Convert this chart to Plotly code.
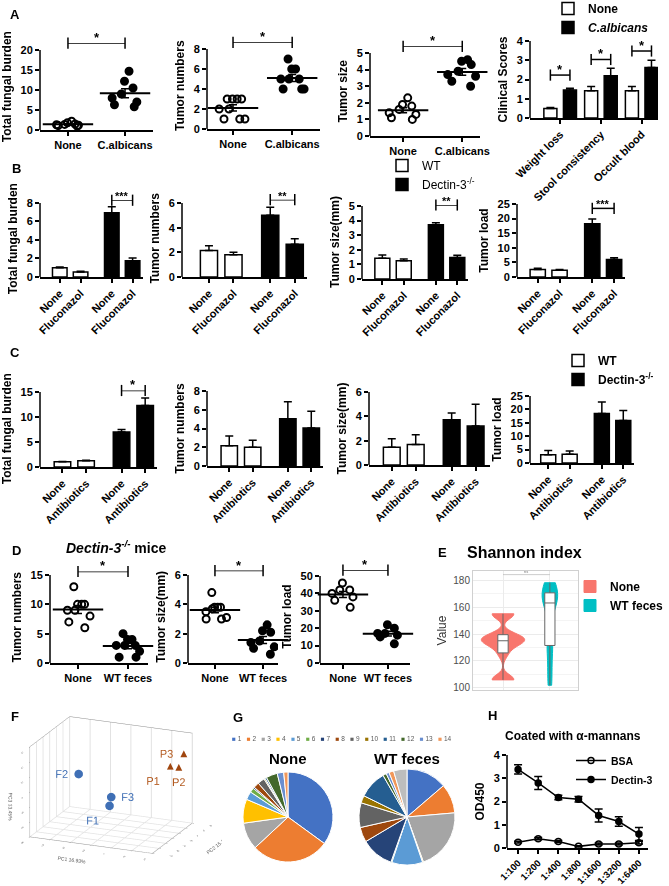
import numpy as np
import plotly.graph_objects as go

W, H = 669, 886
FONT = "Liberation Sans, Arial, Helvetica, sans-serif"

# ---------------- data ----------------
# A: mice colonised with C. albicans
A_GROUPS = ["None", "C.albicans"]
A_FUNGAL_NONE = [1.0, 1.2, 1.5, 1.3, 2.2, 1.8, 1.1, 1.4]
A_FUNGAL_CALB = [14.7, 12.2, 10.5, 8.0, 9.0, 7.0, 5.8, 6.3]
A_TUMOR_NONE = [3, 3, 3, 3, 2, 2, 1, 1, 1]
A_TUMOR_CALB = [7, 6, 6, 5, 5, 5, 4, 4, 4]
A_SIZE_NONE = [2.3, 1.9, 1.8, 1.6, 1.4, 1.3, 1.1, 1.0]
A_SIZE_CALB = [4.6, 4.5, 4.3, 3.9, 3.7, 3.6, 3.0, 3.3]
A_SCORE_CATS = ["Weight loss", "Stool consistency", "Occult blood"]
A_SCORE_NONE = [0.5, 1.42, 1.42]
A_SCORE_NONE_ERR = [0.05, 0.22, 0.22]
A_SCORE_CALB = [1.45, 2.2, 2.62]
A_SCORE_CALB_ERR = [0.1, 0.38, 0.38]

# B: fluconazol treatment (WT None, WT Fluconazol, Dectin None, Dectin Fluconazol)
B_LABELS = ["None", "Fluconazol", "None", "Fluconazol"]
B_FUNGAL = [1.0, 0.55, 6.95, 1.75]
B_FUNGAL_ERR = [0.07, 0.08, 0.65, 0.3]
B_TUMOR = [2.15, 1.8, 5.0, 2.65]
B_TUMOR_ERR = [0.38, 0.2, 0.65, 0.45]
B_SIZE = [1.42, 1.25, 3.72, 1.48]
B_SIZE_ERR = [0.22, 0.12, 0.13, 0.15]
B_LOAD = [2.6, 2.3, 18.2, 6.0]
B_LOAD_ERR = [0.4, 0.3, 1.7, 0.6]

# C: antibiotics treatment
C_LABELS = ["None", "Antibiotics", "None", "Antibiotics"]
C_FUNGAL = [1.05, 1.25, 7.0, 12.3]
C_FUNGAL_ERR = [0.07, 0.1, 0.5, 1.5]
C_TUMOR = [2.15, 2.0, 5.05, 4.05]
C_TUMOR_ERR = [1.05, 0.75, 1.8, 1.8]
C_SIZE = [1.45, 1.68, 3.72, 3.2]
C_SIZE_ERR = [0.7, 0.8, 0.55, 1.8]
C_LOAD = [3.1, 3.3, 18.5, 15.9]
C_LOAD_ERR = [1.6, 1.2, 4.3, 3.7]

# D: Dectin-3-/- mice with WT feces
D_GROUPS = ["None", "WT feces"]
D_TUMOR_NONE = [13, 10, 10, 10, 9, 9, 8, 7, 6]
D_TUMOR_WT = [5, 4, 4, 3, 3, 3, 2, 1, 1]
D_SIZE_NONE = [4.8, 3.8, 3.8, 3.8, 3.7, 3.5, 3.1, 3.0, 3.0]
D_SIZE_WT = [2.6, 2.2, 2.1, 1.5, 1.4, 1.1, 0.6, 1.0]
D_LOAD_NONE = [46, 42, 42, 40, 38, 36, 32]
D_LOAD_WT = [22, 20, 17, 17, 16, 15, 11]

# E: Shannon index
E_NONE = [106, 106, 106, 107, 124, 128, 131, 133, 134, 135, 135, 136, 137, 138, 139, 140,
          154, 155, 155, 155]
E_WT = [102, 115, 128, 135, 150, 162, 164, 166, 169, 172, 176, 178]

# F: PCA
F_LABELS = ["F1", "F2", "F3"]
F_PC1 = [-15, -55, -15]
F_PC2 = [-40, -10, -35]
F_PC3 = [-20, 5, -10]
P_LABELS = ["P1", "P2", "P3"]
P_PC1 = [25, 35, 35]
P_PC2 = [20, 15, 30]
P_PC3 = [20, 22, 35]

# G: composition pies
G_LABELS = [str(i) for i in range(1, 15)]
G_COLORS = ["#4472C4", "#ED7D31", "#A5A5A5", "#FFC000", "#5B9BD5", "#70AD47", "#264478",
            "#9E480E", "#636363", "#997300", "#255E91", "#43682B", "#698ED0", "#F1975A"]
G_NONE = [34.5, 27.6, 9.6, 8.5, 2.9, 1.6, 0.5, 2.0, 2.5, 0.4, 0.6, 4.0, 2.3, 1.5]
G_WT_LABELS = G_LABELS + ["15"]
G_WT = [13.7, 9.9, 20.8, 0.3, 10.4, 0.3, 11.0, 5.0, 8.3, 2.5, 9.4, 1.2, 1.0, 1.6, 4.5]

# H: binding ELISA
H_DILUTIONS = ["1:100", "1:200", "1:400", "1:800", "1:1600", "1:3200", "1:6400"]
H_BSA = [0.25, 0.4, 0.28, 0.07, 0.17, 0.17, 0.23]
H_BSA_ERR = [0.04, 0.05, 0.04, 0.03, 0.04, 0.04, 0.06]
H_DECTIN = [3.38, 2.8, 2.17, 2.1, 1.4, 1.14, 0.6]
H_DECTIN_ERR = [0.2, 0.28, 0.1, 0.12, 0.28, 0.2, 0.28]

# ---------------- helpers ----------------
BAR_POS = [0, 1, 2.5, 3.5]

fig = go.Figure()
axis_no = 0


def px_domain(x0, x1, y0, y1):
    return [x0 / W, x1 / W], [1 - y1 / H, 1 - y0 / H]


GP_AXIS = dict(showline=True, linecolor="black", linewidth=1.5, ticks="outside",
               ticklen=4, tickwidth=1.5, tickcolor="black", showgrid=False,
               zeroline=False, automargin=False,
               tickfont=dict(family=FONT, size=11, color="black", weight="bold"))


def add_axes(box, xrange, ymax, dtick, ytitle, top=None, xcat=True, tickvals=None,
             ticktext=None, tickangle=0, title_size=12, tick_size=11):
    """box = (x left, x right, y pixel of the top tick, y pixel of zero)."""
    global axis_no
    axis_no += 1
    n = "" if axis_no == 1 else str(axis_no)
    x0, x1, ytick_px, yzero_px = box
    ytop = max(ymax, top or 0)
    top_px = yzero_px - ytop / ymax * (yzero_px - ytick_px)
    xd, yd = px_domain(x0, x1, top_px, yzero_px)
    tfont = dict(family=FONT, size=tick_size, color="black", weight="bold")
    xaxis = dict(GP_AXIS, domain=xd, anchor=f"y{n}", range=xrange, tickangle=tickangle,
                 tickfont=tfont)
    if xcat:
        xaxis["type"] = "category"
    else:
        xaxis.update(tickvals=tickvals, ticktext=ticktext)
    yticks = [k * dtick for k in range(int(round(ymax / dtick)) + 1)]
    yaxis = dict(GP_AXIS, domain=yd, anchor=f"x{n}", range=[0, ytop], tickvals=yticks,
                 showline=False,
                 title=dict(text=ytitle, standoff=6,
                            font=dict(family=FONT, size=title_size, color="black", weight="bold")))
    fig.update_layout({f"xaxis{n}": xaxis, f"yaxis{n}": yaxis})
    # GraphPad style: the y axis line stops at the last tick
    fig.add_shape(type="line", xref=f"x{n} domain", yref=f"y{n}", x0=0, x1=0, y0=0, y1=ymax,
                  line=dict(color="black", width=1.5))
    return f"x{n}", f"y{n}"


def bracket(xa, ya, x0, x1, y, stars, xmid):
    fig.add_trace(go.Scatter(
        x=[x0, x1], y=[y, y], xaxis=xa, yaxis=ya, mode="lines+markers",
        line=dict(color="black", width=1.5),
        marker=dict(symbol="line-ns", size=8, line=dict(width=1.5, color="black")),
        cliponaxis=False, showlegend=False, hoverinfo="skip"))
    fig.add_annotation(x=xmid, y=y, xref=xa, yref=ya, text=stars, showarrow=False,
                       xanchor="center", yanchor="bottom", yshift=-4,
                       font=dict(family=FONT, size=13 if len(stars) == 1 else 11,
                                 color="black", weight="bold"))


def dot_panel(xa, ya, groups, open_vals, filled_vals):
    for grp, vals, sym in [(groups[0], open_vals, "circle-open"), (groups[1], filled_vals, "circle")]:
        fig.add_trace(go.Box(
            x=[grp] * len(vals), y=vals, xaxis=xa, yaxis=ya, boxpoints="all",
            jitter=1.0, pointpos=0, width=0.62, fillcolor="rgba(0,0,0,0)",
            line=dict(color="rgba(0,0,0,0)"),
            marker=dict(symbol=sym, size=7, color="black", line=dict(width=2, color="black")),
            showlegend=False, hoverinfo="skip"))
    means, sems = [], []
    for vals in (open_vals, filled_vals):
        arr = np.asarray(vals, dtype=float)
        means.append(arr.mean())
        sems.append(arr.std(ddof=1) / np.sqrt(len(arr)))
    fig.add_trace(go.Scatter(
        x=list(groups), y=means, xaxis=xa, yaxis=ya, mode="markers",
        marker=dict(symbol="line-ew", size=36, color="black", line=dict(width=2, color="black")),
        error_y=dict(type="data", array=sems, color="black", thickness=1.5, width=4),
        showlegend=False, hoverinfo="skip", cliponaxis=False))


def bar_panel(xa, ya, values, errors, names=None, legend=None):
    for idx, fill in enumerate(["white", "black"]):
        sl = slice(2 * idx, 2 * idx + 2)
        kw = dict(name=names[idx], legend=legend, showlegend=True) if names else dict(showlegend=False)
        fig.add_trace(go.Bar(
            x=BAR_POS[sl], y=values[sl], width=0.7, xaxis=xa, yaxis=ya,
            marker=dict(color=fill, line=dict(color="black", width=1.5)),
            error_y=dict(type="data", array=errors[sl], arrayminus=[0, 0], symmetric=False,
                         color="black", thickness=1.5, width=4),
            hoverinfo="skip", **kw))


def label(text, x, y, size=13, color="black", weight="bold"):
    fig.add_annotation(x=x / W, y=1 - y / H, xref="paper", yref="paper", text=text,
                       showarrow=False, xanchor="center", yanchor="middle",
                       font=dict(family=FONT, size=size, color=color, weight=weight))


# ---------------- panel A ----------------
xa, ya = add_axes((40, 153, 50, 130), [-0.49, 1.49], 20, 5, "Total fungal burden", top=21.7)
dot_panel(xa, ya, A_GROUPS, A_FUNGAL_NONE, A_FUNGAL_CALB)
bracket(xa, ya, A_GROUPS[0], A_GROUPS[1], 21.7, "*", 0.5)

xa, ya = add_axes((207, 320, 49, 129), [-0.44, 1.47], 8, 2, "Tumor numbers", top=8.67)
dot_panel(xa, ya, A_GROUPS, A_TUMOR_NONE, A_TUMOR_CALB)
bracket(xa, ya, A_GROUPS[0], A_GROUPS[1], 8.67, "*", 0.5)

xa, ya = add_axes((370, 480, 53, 136), [-0.56, 1.3], 5, 1, "Tumor size", top=5.4)
dot_panel(xa, ya, A_GROUPS, A_SIZE_NONE, A_SIZE_CALB)
bracket(xa, ya, A_GROUPS[0], A_GROUPS[1], 5.4, "*", 0.5)

xa, ya = add_axes((530, 658, 41, 118), [-0.74, 2.4], 4, 1, "Clinical Scores", xcat=False,
                  tickvals=list(range(3)), ticktext=A_SCORE_CATS, tickangle=-45)
offset = 0.24
for vals, errs, fill, name, sign in [(A_SCORE_NONE, A_SCORE_NONE_ERR, "white", "None", -1),
                                     (A_SCORE_CALB, A_SCORE_CALB_ERR, "black", "<i>C.albicans</i>", 1)]:
    fig.add_trace(go.Bar(
        x=[i + sign * offset for i in range(3)], y=vals, width=0.32, xaxis=xa, yaxis=ya,
        marker=dict(color=fill, line=dict(color="black", width=1.5)),
        error_y=dict(type="data", array=errs, arrayminus=[0] * 3, symmetric=False,
                     color="black", thickness=1.5, width=4),
        name=name, legend="legend", hoverinfo="skip"))
for i, h in enumerate([2.23, 3.04, 3.48]):
    bracket(xa, ya, i - offset, i + offset, h, "*", i)

# ---------------- panel B ----------------
b_kw = dict(xcat=False, tickvals=BAR_POS, ticktext=B_LABELS, tickangle=-45)
b_names = ["WT", "Dectin-3<sup>-/-</sup>"]
xa, ya = add_axes((40, 143, 203, 277), [-0.95, 4.0], 8, 2, "Total fungal burden", top=8.3, **b_kw)
bar_panel(xa, ya, B_FUNGAL, B_FUNGAL_ERR)
bracket(xa, ya, BAR_POS[2], BAR_POS[3], 8.3, "***", 3.0)

xa, ya = add_axes((182, 307, 203, 277), [-1.1, 4.0], 6, 2, "Tumor numbers", top=6.27, **b_kw)
bar_panel(xa, ya, B_TUMOR, B_TUMOR_ERR)
bracket(xa, ya, BAR_POS[2], BAR_POS[3], 6.27, "**", 3.0)

xa, ya = add_axes((362, 468, 206, 279), [-0.95, 4.0], 5, 1, "Tumor size(mm)", top=5.07, **b_kw)
bar_panel(xa, ya, B_SIZE, B_SIZE_ERR, names=b_names, legend="legend2")
bracket(xa, ya, BAR_POS[2], BAR_POS[3], 5.07, "**", 3.0)

xa, ya = add_axes((517, 625, 204, 277), [-0.95, 4.0], 25, 5, "Tumor load", **b_kw)
bar_panel(xa, ya, B_LOAD, B_LOAD_ERR)
bracket(xa, ya, BAR_POS[2], BAR_POS[3], 23.5, "***", 3.0)

# ---------------- panel C ----------------
c_kw = dict(xcat=False, tickvals=BAR_POS, ticktext=C_LABELS, tickangle=-45)
xa, ya = add_axes((40, 157, 392, 467), [-0.95, 4.0], 15, 5, "Total fungal burden", top=15.3, **c_kw)
bar_panel(xa, ya, C_FUNGAL, C_FUNGAL_ERR)
bracket(xa, ya, BAR_POS[2], BAR_POS[3], 15.3, "*", 3.0)

xa, ya = add_axes((207, 323, 391, 466), [-0.95, 4.0], 8, 2, "Tumor numbers", **c_kw)
bar_panel(xa, ya, C_TUMOR, C_TUMOR_ERR)

xa, ya = add_axes((369, 490, 392, 465), [-0.95, 4.1], 6, 2, "Tumor size(mm)", **c_kw)
bar_panel(xa, ya, C_SIZE, C_SIZE_ERR)

xa, ya = add_axes((530, 634, 396, 463), [-0.85, 4.0], 25, 5, "Tumor load", **c_kw)
bar_panel(xa, ya, C_LOAD, C_LOAD_ERR, names=b_names, legend="legend3")

# ---------------- panel D ----------------
xa, ya = add_axes((50, 148, 575, 663), [-0.56, 1.4], 15, 5, "Tumor numbers", top=15.6)
dot_panel(xa, ya, D_GROUPS, D_TUMOR_NONE, D_TUMOR_WT)
bracket(xa, ya, D_GROUPS[0], D_GROUPS[1], 15.6, "*", 0.5)

xa, ya = add_axes((188, 278, 575, 663), [-0.56, 1.31], 6, 2, "Tumor size(mm)", top=6.3)
dot_panel(xa, ya, D_GROUPS, D_SIZE_NONE, D_SIZE_WT)
bracket(xa, ya, D_GROUPS[0], D_GROUPS[1], 6.3, "*", 0.5)

xa, ya = add_axes((320, 410, 576, 663), [-0.51, 1.49], 50, 10, "Tumor load", top=53.4)
dot_panel(xa, ya, D_GROUPS, D_LOAD_NONE, D_LOAD_WT)
bracket(xa, ya, D_GROUPS[0], D_GROUPS[1], 53.4, "*", 0.5)

# ---------------- panel E ----------------
axis_no += 1
n = str(axis_no)
xd, yd = px_domain(473, 578, 571, 690)
grid_axis = dict(showline=True, mirror=True, linecolor="#D0D0D0", linewidth=1, showgrid=True,
                 gridcolor="#EBEBEB", gridwidth=1, zeroline=False, ticks="", automargin=False,
                 tickfont=dict(family=FONT, size=10, color="#4D4D4D"))
fig.update_layout({
    f"xaxis{n}": dict(grid_axis, domain=xd, anchor=f"y{n}", type="category",
                      range=[-0.64, 1.6], showticklabels=False),
    f"yaxis{n}": dict(grid_axis, domain=yd, anchor=f"x{n}", range=[98.5, 186.7], dtick=20,
                      minor=dict(showgrid=True, gridcolor="#F4F4F4", dtick=10),
                      title=dict(text="Value", standoff=4,
                                 font=dict(family=FONT, size=12, color="#333333"))),
})
for vals, grp, col, width, bw, boxw in [(E_NONE, "None", "#F8766D", 0.92, 3.5, 0.24),
                                        (E_WT, "WT feces", "#00BFC4", 0.33, 8, 0.66)]:
    fig.add_trace(go.Violin(
        x=[grp] * len(vals), y=vals, xaxis=f"x{n}", yaxis=f"y{n}", name=grp, legend="legend4",
        fillcolor=col, line=dict(color=col, width=1), width=width, bandwidth=bw,
        spanmode="hard", points=False, opacity=1,
        box=dict(visible=True, width=boxw, fillcolor="white", line=dict(color="#666666", width=1)),
        hoverinfo="skip"))
fig.add_trace(go.Scatter(x=["None", "WT feces"], y=[184, 184], xaxis=f"x{n}", yaxis=f"y{n}",
                         mode="lines", line=dict(color="#AAAAAA", width=0.6),
                         showlegend=False, hoverinfo="skip", cliponaxis=False))
fig.add_annotation(x=0.5, y=184, xref=f"x{n}", yref=f"y{n}", text="ns", showarrow=False,
                   yanchor="bottom", yshift=-1, font=dict(family=FONT, size=4, color="#777777"))

# ---------------- panel F ----------------
fig.add_trace(go.Scatter3d(
    x=F_PC1, y=F_PC2, z=F_PC3, mode="markers+text", text=F_LABELS,
    textposition=["bottom left", "middle left", "middle right"],
    marker=dict(size=5, color="#3F6FB5", symbol="circle"),
    textfont=dict(family=FONT, size=11, color="#3F6FB5"), showlegend=False, hoverinfo="skip"))
fig.add_trace(go.Scatter3d(
    x=P_PC1, y=P_PC2, z=P_PC3, mode="text", text=["▲"] * 3, textposition="middle center",
    textfont=dict(family="DejaVu Sans", size=9, color="#A0460F"), showlegend=False, hoverinfo="skip"))
fig.add_trace(go.Scatter3d(
    x=P_PC1, y=P_PC2, z=P_PC3, mode="text", text=P_LABELS,
    textposition=["bottom left", "bottom center", "middle left"],
    textfont=dict(family=FONT, size=11, color="#B35A1F"), showlegend=False, hoverinfo="skip"))
scene_axis = dict(showbackground=False, showgrid=True, gridcolor="#E2E2E2", showline=True,
                  linecolor="#8C8C8C", mirror=True, zeroline=False, showspikes=False,
                  tickfont=dict(family=FONT, size=5, color="#666666"), ticks="outside",
                  ticklen=2, tickcolor="#8C8C8C")
sx, sy = px_domain(0, 222, 690, 880)
fig.update_layout(scene=dict(
    domain=dict(x=sx, y=sy),
    xaxis=dict(scene_axis, range=[-80, 40], dtick=20,
               title=dict(text="PC1 16.93%", font=dict(family=FONT, size=5, color="#555555"))),
    yaxis=dict(scene_axis, range=[-80, 40], dtick=20,
               title=dict(text="PC2 15.18%", font=dict(family=FONT, size=5, color="#555555"))),
    zaxis=dict(scene_axis, range=[-60, 60], dtick=20, showgrid=False,
               title=dict(text="PC3 13.45%", font=dict(family=FONT, size=5, color="#555555"))),
    camera=dict(eye=dict(x=0.7, y=-1.66, z=0.61), up=dict(x=0, y=0.61, z=1.66),
                center=dict(x=0, y=0, z=0), projection=dict(type="orthographic")),
    aspectmode="manual", aspectratio=dict(x=1.4, y=1.08, z=1.0),
))

# ---------------- panel G ----------------
for vals, labs, box in [(G_NONE, G_LABELS, (243, 333, 772, 862)),
                        (G_WT, G_WT_LABELS, (359, 455, 769, 865))]:
    gx, gy = px_domain(*box)
    fig.add_trace(go.Pie(
        values=vals, labels=labs, sort=False, direction="clockwise", rotation=0,
        marker=dict(colors=G_COLORS + ["#BDBDBD"], line=dict(color="white", width=1)),
        textinfo="none", hoverinfo="skip", showlegend=False, domain=dict(x=gx, y=gy)))
legend_text = "   ".join(f"<span style='color:{c}'>■</span> {lab}" for lab, c in zip(G_LABELS, G_COLORS))
label(legend_text, 342, 738, size=6.5, color="#595959", weight="normal")
label("None", 288, 758, size=15)
label("WT feces", 407, 758, size=15)

# ---------------- panel H ----------------
xa, ya = add_axes((507, 648, 755, 848), [-0.55, 6.45], 4, 1, "OD450", tickangle=-45,
                  tick_size=9.5)
for vals, errs, sym, name in [(H_BSA, H_BSA_ERR, "circle-open", "BSA"),
                              (H_DECTIN, H_DECTIN_ERR, "circle", "Dectin-3")]:
    fig.add_trace(go.Scatter(
        x=H_DILUTIONS, y=vals, xaxis=xa, yaxis=ya, mode="lines+markers", name=name,
        legend="legend5", line=dict(color="black", width=1.5),
        marker=dict(symbol=sym, size=6, color="black", line=dict(width=1.5, color="black")),
        error_y=dict(type="data", array=errs, color="black", thickness=1.5, width=4),
        cliponaxis=False, hoverinfo="skip"))

# ---------------- texts ----------------
for letter, x, y in [("A", 15, 15), ("B", 16, 169), ("C", 15, 352), ("D", 16, 550),
                     ("E", 443, 552), ("F", 15, 716), ("G", 238, 717), ("H", 492, 715)]:
    label(letter, x, y, size=13)
label("<i>Dectin-3<sup>-/-</sup></i> mice", 116, 547, size=14)
label("Shannon index", 524, 552, size=16)
label("Coated with α-mannans", 573, 736, size=12)

legend_font = dict(family=FONT, size=12, color="black", weight="bold")
common_legend = dict(bgcolor="rgba(0,0,0,0)", xanchor="left", yanchor="top",
                     tracegroupgap=0, itemclick=False)
fig.update_layout(
    width=W, height=H, margin=dict(l=0, r=0, t=0, b=0, autoexpand=False),
    paper_bgcolor="white", plot_bgcolor="white",
    barmode="overlay", boxmode="overlay", violinmode="overlay",
    font=dict(family=FONT, color="black"),
    legend=dict(common_legend, x=548 / W, y=1 + 6 / H, font=legend_font),
    legend2=dict(common_legend, x=382 / W, y=1 - 151 / H,
                 font=dict(family=FONT, size=12, color="black")),
    legend3=dict(common_legend, x=558 / W, y=1 - 346 / H, font=legend_font),
    legend4=dict(common_legend, x=1.0, xanchor="right", y=1 - 572 / H, font=legend_font),
    legend5=dict(common_legend, x=571 / W, y=1 - 746 / H,
                 font=dict(family=FONT, size=10.5, color="black", weight="bold")),
)

fig.write_html("out.html", config={"displayModeBar": False},
               post_script="document.body.style.margin = '0';")
